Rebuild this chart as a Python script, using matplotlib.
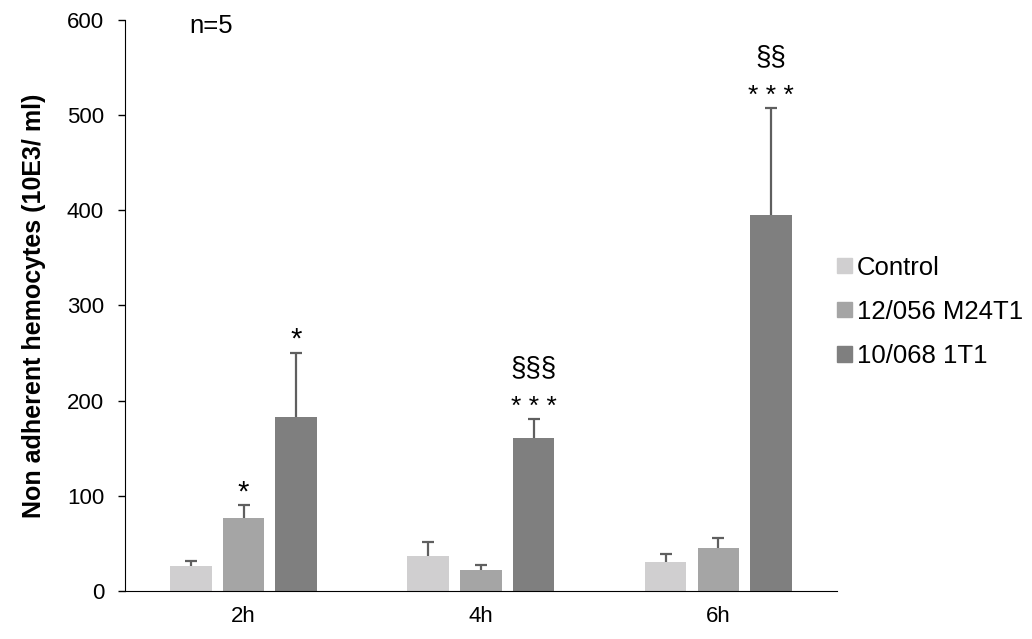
import numpy as np
import matplotlib.pyplot as plt
from matplotlib.patches import Patch

plt.rcParams['font.family'] = ['Liberation Sans', 'DejaVu Sans']

# data
times = ['2h', '4h', '6h']
groups = ['Control', '12/056 M24T1', '10/068 1T1']
control = [26, 37, 31]
m24t1 = [77, 22, 45]
t1 = [183, 161, 395]
control_err = [6, 15, 8]
m24t1_err = [13, 5, 11]
t1_err = [67, 20, 112]
# significance marks, per time point, per group
stars = [['', '*', '*'], ['', '', '* * *'], ['', '', '* * *']]
sections = [['', '', ''], ['', '', '§§§'], ['', '', '§§']]

colors = ['#d0cfd0', '#a5a5a5', '#7f7f7f']

fig = plt.figure(figsize=(10.32, 6.39), dpi=100)
ax = fig.add_axes([0.121, 0.075, 0.690, 0.894])

x = np.arange(len(times))
width = 0.175
step = 0.222
means = [control, m24t1, t1]
errs = [control_err, m24t1_err, t1_err]

for i in range(3):
    xpos = x + (i - 1) * step
    ax.bar(xpos, means[i], width, color=colors[i], label=groups[i], zorder=2)
    # symmetric bars drawn behind the bars, so only the upper half shows
    ax.errorbar(xpos, means[i], yerr=errs[i], fmt='none', ecolor='#5f5f5f',
                elinewidth=1.6, capsize=4.5, capthick=1.6, zorder=1)
    for j in range(3):
        top = means[i][j] + errs[i][j]
        if stars[j][i]:
            fs = 21 if len(stars[j][i]) == 1 else 19
            ax.annotate(stars[j][i], (xpos[j], top), xytext=(0, 5),
                        textcoords='offset pixels', ha='center', va='baseline',
                        fontsize=fs)
        if sections[j][i]:
            ax.annotate(sections[j][i], (xpos[j], top), xytext=(0, 44),
                        textcoords='offset pixels', ha='center', va='baseline',
                        fontsize=20)

ax.set_xlim(-0.5, 2.5)
ax.set_ylim(0, 600)
ax.set_yticks(range(0, 601, 100))
ax.set_xticks(x)
ax.set_xticklabels(times)
ax.tick_params(axis='x', length=0, labelsize=16, pad=11)
ax.tick_params(axis='y', length=5, width=1, labelsize=16, direction='out', pad=10)
ax.spines['top'].set_visible(False)
ax.spines['right'].set_visible(False)
ax.set_ylabel('Non adherent hemocytes (10E3/ ml)', fontsize=18, fontweight='bold', labelpad=15)
ax.text(0.09, 0.99, 'n=5', transform=ax.transAxes, fontsize=18.5, va='center')

handles = [Patch(color=c) for c in colors]
fig.legend(handles, groups, loc='center left', bbox_to_anchor=(0.789, 0.512),
           frameon=False, fontsize=18.5, handlelength=0.55, handleheight=0.55,
           handletextpad=0.22, labelspacing=0.78)

fig.savefig('out.png', dpi=100)
